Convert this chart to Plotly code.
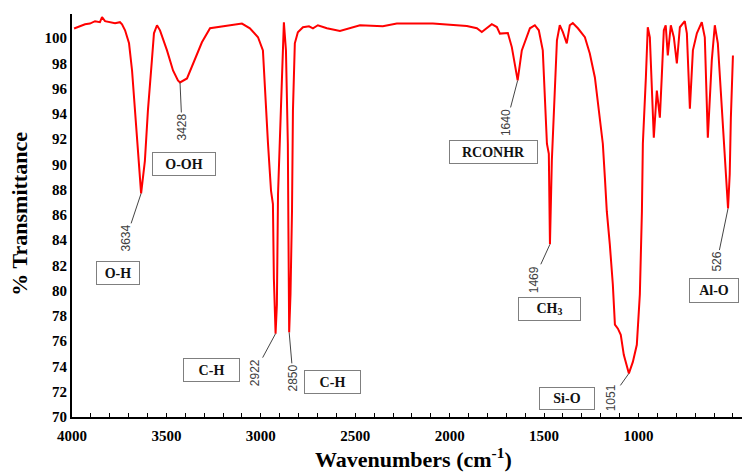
import numpy as np
import plotly.graph_objects as go

# ---- data ----
wavenumber = [3989, 3958, 3931, 3905, 3878, 3852, 3841, 3825, 3799, 3772, 3746, 3735, 3719,
              3698, 3682, 3666, 3651, 3643, 3634, 3614, 3598, 3577, 3566, 3550, 3534, 3497,
              3465, 3439, 3428, 3391, 3359, 3312, 3269, 3201, 3126, 3100, 3058, 3015, 2989,
              2978, 2962, 2946, 2936, 2931, 2925, 2922, 2915, 2909, 2894, 2883, 2878, 2867,
              2857, 2854, 2850, 2843, 2835, 2830, 2820, 2804, 2777, 2745, 2724, 2698, 2650,
              2581, 2475, 2354, 2280, 2089, 1909, 1856, 1830, 1777, 1750, 1734, 1692, 1671,
              1640, 1618, 1575, 1549, 1528, 1507, 1496, 1485, 1475, 1472, 1469, 1459, 1448,
              1432, 1417, 1401, 1380, 1364, 1348, 1321, 1284, 1258, 1231, 1210, 1189, 1178,
              1168, 1152, 1136, 1125, 1109, 1094, 1078, 1051, 1030, 1009, 993, 982, 977,
              961, 951, 940, 930, 919, 903, 898, 887, 877, 866, 856, 845, 829, 813, 797,
              781, 755, 744, 728, 712, 691, 665, 649, 633, 612, 596, 580, 554, 538, 526,
              517, 511, 500]
transmittance = [100.75, 100.93, 101.09, 101.14, 101.33, 101.25, 101.65, 101.33, 101.25, 101.17,
                 101.25, 101.09, 100.61, 99.58, 97.43, 94.25, 91.06, 89.3, 87.7, 90.28, 94.25,
                 98.23, 100.37, 101.01, 100.61, 99.02, 97.43, 96.64, 96.48, 96.8, 97.99, 99.66,
                 100.77, 100.93, 101.09, 101.14, 100.77, 100.06, 99.02, 95.6, 91.63, 87.89,
                 86.86, 80.97, 78.9, 76.6, 78.9, 87.65, 94.25, 99.58, 101.25, 99.02, 91.63,
                 84.95, 76.7, 79.69, 86.29, 94.25, 99.58, 100.45, 100.85, 100.93, 100.77,
                 101.01, 100.77, 100.56, 101.01, 100.93, 101.14, 101.14, 100.95, 100.77,
                 100.48, 101.09, 100.87, 100.35, 100.4, 99.28, 96.64, 99.02, 100.77, 101.01,
                 100.61, 99.02, 95.84, 91.63, 90.83, 88.13, 83.67, 90.28, 94.25, 99.82, 101.01,
                 100.48, 99.58, 101.01, 101.19, 100.77, 100.06, 98.78, 96.88, 94.25, 91.63,
                 88.93, 86.29, 83.67, 80.49, 77.31, 76.99, 76.51, 74.92, 73.45, 74.36, 75.72,
                 79.69, 86.29, 91.63, 96.88, 100.85, 100.06, 95.6, 92.1, 95.84, 95.28, 93.69,
                 96.88, 100.61, 101.01, 98.62, 101.01, 100.06, 97.99, 100.85, 101.33, 100.37,
                 94.41, 99.02, 100.37, 101.25, 100.06, 92.1, 98.23, 101.01, 99.58, 93.69,
                 89.71, 86.5, 89.23, 93.69, 98.62]

peak_wn = [3634, 3428, 2922, 2850, 1640, 1469, 1051, 526]
peak_group = ["O-H", "O-OH", "C-H", "C-H", "RCONHR", "CH<sub>3</sub>", "Si-O", "Al-O"]

x_ticks = [4000, 3500, 3000, 2500, 2000, 1500, 1000, 500]
y_ticks = list(range(70, 101, 2))

# ---- layout helpers (pixel offsets of labels relative to their peak) ----
num_offsets = [(-15, 45), (2, 45), (-21, 39), (4, 46), (-11, 42), (-16, 35), (-17, 24), (-11, 53)]
box_offsets = [(-23, -80), (4, -82), (-64, -36), (43, -50), (-24, -72), (0, -65), (-62, -25), (-14, -82)]
box_sizes = [(42, 22), (62, 22), (55, 22), (55, 22), (87, 22), (61, 22), (54, 21), (48, 23)]

serif = "Liberation Serif, Times New Roman, serif"
sans = "Liberation Sans, Arial, sans-serif"

fig = go.Figure()
fig.add_trace(go.Scatter(x=wavenumber, y=transmittance, mode="lines",
                         line=dict(color="#FF0000", width=2), hoverinfo="skip",
                         showlegend=False))

wn_arr = np.array(wavenumber[::-1], dtype=float)
t_arr = np.array(transmittance[::-1], dtype=float)
annotations = []
for i, wn in enumerate(peak_wn):
    t = float(np.interp(wn, wn_arr, t_arr))
    ax, ay = num_offsets[i]
    annotations.append(dict(x=wn, y=t, xref="x", yref="y", text=str(wn), textangle=-90,
                            showarrow=True, arrowhead=0, arrowwidth=1, arrowcolor="#444444",
                            ax=ax, ay=ay, standoff=0,
                            font=dict(family=sans, size=12, color="#404040")))
    bx, by = box_offsets[i]
    w, h = box_sizes[i]
    annotations.append(dict(x=wn, y=t, xref="x", yref="y", text="<b>%s</b>" % peak_group[i],
                            showarrow=False, xshift=bx, yshift=by, width=w, height=h,
                            xanchor="center", yanchor="middle",
                            bgcolor="white", bordercolor="#7f7f7f", borderwidth=1, borderpad=0,
                            align="center", valign="middle",
                            font=dict(family=serif, size=14, color="#111111")))

annotations.append(dict(x=-0.078, y=0.504, xref="paper", yref="paper",
                        xanchor="center", yanchor="middle",
                        text="<b>% Transmittance</b>", textangle=-90, showarrow=False,
                        font=dict(family=serif, size=22, color="black")))
annotations.append(dict(x=0.51, y=-0.102, xref="paper", yref="paper",
                        xanchor="center", yanchor="middle",
                        text="<b>Wavenumbers (cm<sup>-1</sup>)</b>", showarrow=False,
                        font=dict(family=serif, size=22, color="black")))

fig.update_layout(
    width=742, height=473,
    margin=dict(l=72, r=0, t=14, b=56),
    paper_bgcolor="white", plot_bgcolor="white",
    annotations=annotations,
    xaxis=dict(range=[4000, 452], tickvals=x_ticks, ticktext=["<b>%d</b>" % v for v in x_ticks],
               showgrid=False, zeroline=False, showline=True, linecolor="black", linewidth=2,
               ticks="inside", ticklen=4, tickcolor="black", tickwidth=1, ticklabelstandoff=4,
               minor=dict(dtick=100, ticks="inside", ticklen=4, tickcolor="black", tickwidth=1),
               tickfont=dict(family=serif, size=15, color="black")),
    yaxis=dict(range=[70, 101.9], tickvals=y_ticks, ticktext=["<b>%d</b>" % v for v in y_ticks],
               showgrid=False, zeroline=False, showline=True, linecolor="black", linewidth=2,
               ticks="", tickfont=dict(family=serif, size=15, color="black")),
)

fig.write_html("out.html")
